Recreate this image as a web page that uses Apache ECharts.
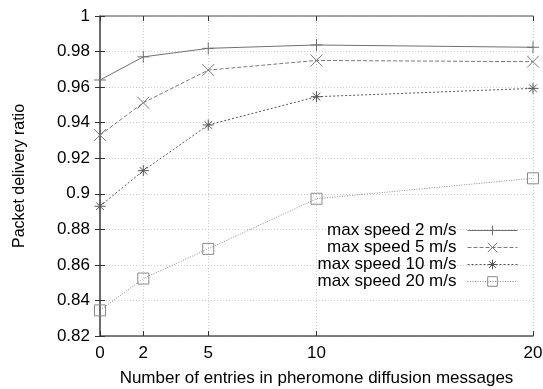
<!DOCTYPE html>
<html>
<head>
<meta charset="utf-8">
<script src="https://cdn.jsdelivr.net/npm/echarts@6/dist/echarts.min.js"></script>
<style>
  html, body { margin: 0; padding: 0; background: #fff; }
  #chart { width: 543px; height: 389px; }
</style>
</head>
<body>
<div id="chart"></div>
<script>
// entries in pheromone diffusion messages
const entries = [0, 2, 5, 10, 20]
const yTicks = [0.82, 0.84, 0.86, 0.88, 0.9, 0.92, 0.94, 0.96, 0.98, 1]

const speed2 = [0.964, 0.977, 0.9818, 0.9837, 0.9824]
const speed5 = [0.933, 0.9512, 0.9696, 0.975, 0.9743]
const speed10 = [0.893, 0.913, 0.9387, 0.9546, 0.9593]
const speed20 = [0.8344, 0.8523, 0.869, 0.8972, 0.9087]

const seriesNames = ['max speed 2 m/s', 'max speed 5 m/s', 'max speed 10 m/s', 'max speed 20 m/s']

const FONT = 'Liberation Sans, Arial, sans-serif'

const symbols = {
  plus: 'path://M5,0L5,10M0,5L10,5',
  cross: 'path://M0,0L10,10M10,0L0,10',
  star: 'path://M5,0L5,10M0,5L10,5M1.5,1.5L8.5,8.5M8.5,1.5L1.5,8.5'
}

function pairs(values) {
  return entries.map((x, i) => [x, values[i]])
}

function makeSeries(name, values, symbol, size, lineType, color) {
  return {
    name: name,
    type: 'line',
    data: pairs(values),
    symbol: symbol,
    symbolSize: size,
    clip: false,
    lineStyle: { color: color, width: 1, type: lineType },
    itemStyle: { color: 'none', borderColor: color, borderWidth: 1 },
    emphasis: { disabled: true }
  }
}

const chart = echarts.init(document.getElementById('chart'))

chart.setOption({
  animation: false,
  textStyle: { fontFamily: FONT },
  grid: { left: 100, right: 10, top: 16, bottom: 53, outerBoundsMode: 'none' },
  legend: {
    right: 25,
    top: 222,
    padding: 0,
    orient: 'vertical',
    align: 'right',
    itemWidth: 50,
    itemHeight: 12,
    itemGap: 0,
    lineStyle: { width: 1 },
    itemStyle: { borderWidth: 1 },
    textStyle: { fontSize: 17, lineHeight: 17, color: '#000', fontFamily: FONT, padding: [0, 6, 0, 0] },
    data: seriesNames
  },
  xAxis: [
    {
      type: 'value',
      min: 0,
      max: 20,
      name: 'Number of entries in pheromone diffusion messages',
      nameLocation: 'middle',
      nameGap: 34,
      nameTextStyle: { fontSize: 17, color: '#000' },
      axisLine: { lineStyle: { color: '#555', width: 1.5 } },
      axisTick: { inside: true, length: 5, customValues: entries, lineStyle: { color: '#333' } },
      axisLabel: { customValues: entries, fontSize: 17, color: '#000', margin: 9 },
      splitLine: { show: true, lineStyle: { color: '#ccc', type: [1, 2] } }
    },
    {
      type: 'value',
      position: 'top',
      min: 0,
      max: 20,
      axisLine: { lineStyle: { color: '#888', width: 1.5 } },
      axisTick: { inside: true, length: 5, customValues: entries, lineStyle: { color: '#333' } },
      axisLabel: { show: false },
      splitLine: { show: false }
    }
  ],
  yAxis: [
    {
      type: 'value',
      min: 0.82,
      max: 1,
      interval: 0.02,
      name: 'Packet delivery ratio',
      nameLocation: 'middle',
      nameGap: 72,
      nameTextStyle: { fontSize: 16, color: '#000' },
      axisLine: { show: true, lineStyle: { color: '#555', width: 1.5 } },
      axisTick: { show: true, inside: true, length: 5, lineStyle: { color: '#333' } },
      axisLabel: {
        fontSize: 17,
        color: '#000',
        margin: 10,
        formatter: v => {
          const t = yTicks.find(s => Math.abs(s - v) < 1e-6)
          return t === undefined ? '' : String(t)
        }
      },
      splitLine: { show: true, lineStyle: { color: '#ccc', type: [1, 2] } }
    },
    {
      type: 'value',
      position: 'right',
      min: 0.82,
      max: 1,
      interval: 0.02,
      axisLine: { show: true, lineStyle: { color: '#666', width: 1.5 } },
      axisTick: { show: true, inside: true, length: 5, lineStyle: { color: '#333' } },
      axisLabel: { show: false },
      splitLine: { show: false }
    }
  ],
  series: [
    makeSeries(seriesNames[0], speed2, symbols.plus, 12, 'solid', '#707070'),
    makeSeries(seriesNames[1], speed5, symbols.cross, 12, [4, 2], '#7a7a7a'),
    makeSeries(seriesNames[2], speed10, symbols.star, 11, [2, 2], '#555'),
    makeSeries(seriesNames[3], speed20, 'rect', 11, [1, 1.5], '#8a8a8a')
  ]
})
</script>
</body>
</html>
